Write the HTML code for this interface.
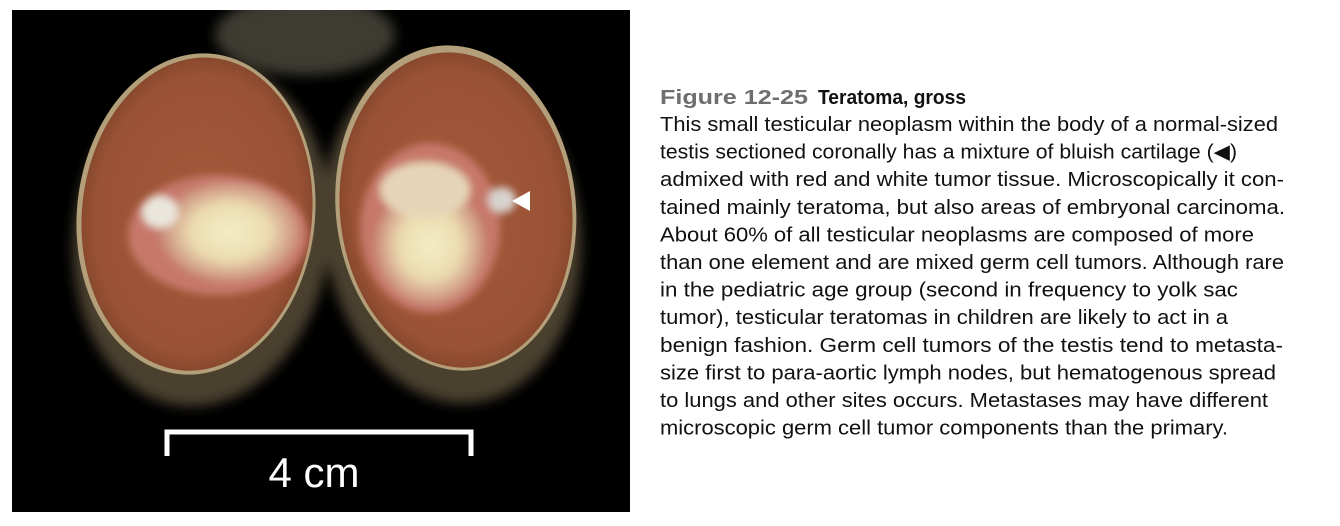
<!DOCTYPE html>
<html><head><meta charset="utf-8"><style>
html,body{margin:0;padding:0;background:#fff;width:1340px;height:526px;overflow:hidden}
svg{display:block}
</style></head><body>
<svg width="1340" height="526" viewBox="0 0 1340 526">
<defs>
<radialGradient id="brown" cx="50%" cy="50%" r="55%">
<stop offset="0" stop-color="#a4583a"/><stop offset="0.8" stop-color="#9a5234"/><stop offset="1" stop-color="#7a4128"/></radialGradient>
<radialGradient id="tumor" cx="50%" cy="50%" r="50%">
<stop offset="0" stop-color="#f3eec4"/><stop offset="0.55" stop-color="#ecdcb0"/><stop offset="1" stop-color="#c98a7a"/></radialGradient>
<filter id="blur4"><feGaussianBlur stdDeviation="4"/></filter>
<filter id="blur8"><feGaussianBlur stdDeviation="6"/></filter>
<clipPath id="photo"><rect x="12" y="10" width="618" height="502"/></clipPath>
</defs>
<g clip-path="url(#photo)">
<rect x="12" y="10" width="618" height="502" fill="#000"/>
<g filter="url(#blur8)">
<ellipse cx="305" cy="35" rx="90" ry="40" fill="#3e3a30"/>
<ellipse cx="202" cy="235" rx="128" ry="172" fill="#4a3f2e" transform="rotate(8 202 235)"/>
<ellipse cx="452" cy="230" rx="128" ry="174" fill="#4a3f2e" transform="rotate(-8 452 230)"/>
</g>
<g transform="rotate(6 196 214)">
<ellipse cx="196" cy="214" rx="119" ry="161" fill="#b3a07a"/>
<ellipse cx="197" cy="214" rx="115" ry="157" fill="url(#brown)"/>
</g>
<g filter="url(#blur4)">
<ellipse cx="218" cy="235" rx="90" ry="60" fill="#c7786a"/>
<ellipse cx="230" cy="232" rx="70" ry="50" fill="url(#tumor)"/>
<ellipse cx="160" cy="212" rx="18" ry="16" fill="#eae6dc"/>
</g>
<g transform="rotate(-6 456 210)">
<ellipse cx="456" cy="208" rx="120" ry="163" fill="#b3a07a"/>
<ellipse cx="456" cy="210" rx="116" ry="158" fill="url(#brown)"/>
</g>
<g filter="url(#blur4)">
<ellipse cx="430" cy="228" rx="70" ry="85" fill="#c7786a"/>
<ellipse cx="430" cy="245" rx="55" ry="60" fill="url(#tumor)"/>
<ellipse cx="425" cy="190" rx="45" ry="28" fill="#e6d4b8"/>
<ellipse cx="502" cy="200" rx="14" ry="13" fill="#d8d2ce"/>
</g>
<polygon points="512,201 530,191 530,211" fill="#fff"/>
<g fill="none" stroke="#fff" stroke-width="5">
<polyline points="167,456 167,432 471,432 471,456"/>
</g>
<text x="314" y="487" fill="#fff" font-family="Liberation Sans, sans-serif" font-size="42" text-anchor="middle">4 cm</text>
</g>
<g font-family="Liberation Sans, sans-serif">
<text x="660" y="104" font-size="20" font-weight="bold" fill="#6d6e70" textLength="148" lengthAdjust="spacingAndGlyphs">Figure 12-25</text>
<text x="818" y="104" font-size="20" font-weight="bold" fill="#111" textLength="148" lengthAdjust="spacingAndGlyphs">Teratoma, gross</text>
<g font-size="20.5" fill="#111">
<text x="660" y="131" textLength="618" lengthAdjust="spacingAndGlyphs">This small testicular neoplasm within the body of a normal-sized</text>
<text x="660" y="158.6" textLength="577" lengthAdjust="spacingAndGlyphs">testis sectioned coronally has a mixture of bluish cartilage (◀)</text>
<text x="660" y="186.2" textLength="624" lengthAdjust="spacingAndGlyphs">admixed with red and white tumor tissue. Microscopically it con-</text>
<text x="660" y="213.8" textLength="625" lengthAdjust="spacingAndGlyphs">tained mainly teratoma, but also areas of embryonal carcinoma.</text>
<text x="660" y="241.4" textLength="594" lengthAdjust="spacingAndGlyphs">About 60% of all testicular neoplasms are composed of more</text>
<text x="660" y="269" textLength="624" lengthAdjust="spacingAndGlyphs">than one element and are mixed germ cell tumors. Although rare</text>
<text x="660" y="296.6" textLength="578" lengthAdjust="spacingAndGlyphs">in the pediatric age group (second in frequency to yolk sac</text>
<text x="660" y="324.2" textLength="568" lengthAdjust="spacingAndGlyphs">tumor), testicular teratomas in children are likely to act in a</text>
<text x="660" y="351.8" textLength="623" lengthAdjust="spacingAndGlyphs">benign fashion. Germ cell tumors of the testis tend to metasta-</text>
<text x="660" y="379.4" textLength="616" lengthAdjust="spacingAndGlyphs">size first to para-aortic lymph nodes, but hematogenous spread</text>
<text x="660" y="407" textLength="608" lengthAdjust="spacingAndGlyphs">to lungs and other sites occurs. Metastases may have different</text>
<text x="660" y="434.6" textLength="568" lengthAdjust="spacingAndGlyphs">microscopic germ cell tumor components than the primary.</text>
</g>
</g>
</svg>
</body></html>
